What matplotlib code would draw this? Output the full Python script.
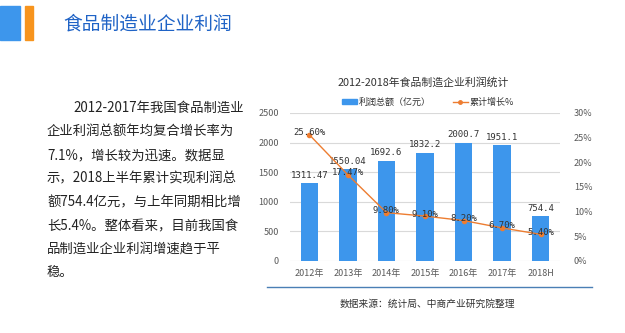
import matplotlib.pyplot as plt
from matplotlib.patches import Rectangle
from matplotlib.lines import Line2D

plt.rcParams['font.family'] = ['Noto Sans CJK SC', 'DejaVu Sans']

# data
years = ["2012年", "2013年", "2014年", "2015年", "2016年", "2017年", "2018H"]
profit = [1311.47, 1550.04, 1692.6, 1832.2, 2000.7, 1951.1, 754.4]
profit_labels = ["1311.47", "1550.04", "1692.6", "1832.2", "2000.7", "1951.1", "754.4"]
growth = [25.60, 17.47, 9.80, 9.10, 8.20, 6.70, 5.40]

text_lines = [
    "2012-2017年我国食品制造业",
    "企业利润总额年均复合增长率为",
    "7.1%，增长较为迅速。数据显",
    "示，2018上半年累计实现利润总",
    "额754.4亿元，与上年同期相比增",
    "长5.4%。整体看来，目前我国食",
    "品制造业企业利润增速趋于平",
    "稳。",
]

blue = "#3d96ec"
orange = "#ed7d31"
gray = "#595959"

fig = plt.figure(figsize=(6.25, 3.33), dpi=100)
W, H = 625, 333

# header decoration
fig.patches.append(Rectangle((0 / W, 1 - 40 / H), 20 / W, 34 / H,
                             transform=fig.transFigure, color="#3d96ec"))
fig.patches.append(Rectangle((25 / W, 1 - 40 / H), 8 / W, 34 / H,
                             transform=fig.transFigure, color="#f7941d"))
fig.text(63 / W, 1 - 24 / H, "食品制造业企业利润", fontsize=13.5,
         color="#1f63c6", va="center", ha="left", weight="medium")

# left paragraph
ys = [108, 131, 155, 178, 202, 226, 250, 272]
for i, (line, y) in enumerate(zip(text_lines, ys)):
    x = 73 if i == 0 else 47
    fig.text(x / W, 1 - y / H, line, fontsize=9.6, color="#222222",
             va="center", ha="left")

# chart
ax = fig.add_axes([290 / W, 72 / H, 270 / W, 148 / H])
ax2 = ax.twinx()
x = list(range(len(years)))
ax.bar(x, profit, width=0.45, color=blue, zorder=2)
ax.set_ylim(0, 2500)
ax.set_yticks([0, 500, 1000, 1500, 2000, 2500])
ax.set_xlim(-0.5, len(years) - 0.5)
ax.set_xticks(x)
ax.set_xticklabels(years)
ax.grid(axis="y", color="#d9d9d9", linewidth=0.8, zorder=0)
ax.set_axisbelow(True)
for a in (ax, ax2):
    for s in a.spines.values():
        s.set_visible(False)
    a.tick_params(length=0, labelsize=6.5, colors=gray)
ax.tick_params(axis="x", pad=6)
ax.tick_params(axis="y", pad=8)
ax2.tick_params(axis="y", pad=10)

for xi, v, lab in zip(x, profit, profit_labels):
    ax.text(xi, v + 60, lab, ha="center", va="bottom", fontsize=6.5,
            color="#333333", family="DejaVu Sans Mono")

ax2.plot(x, growth, color=orange, linewidth=1.0, marker="o", markersize=3,
         zorder=3)
ax2.set_ylim(0, 30)
ax2.set_yticks([0, 5, 10, 15, 20, 25, 30])
ax2.set_yticklabels([f"{t}%" for t in range(0, 31, 5)])
for xi, g in zip(x, growth):
    ax2.text(xi, g + 0.4, f"{g:.2f}%", ha="center", va="center",
             fontsize=6.5, color="#333333", family="DejaVu Sans Mono")

# chart title and legend
fig.text(423 / W, 1 - 82 / H, "2012-2018年食品制造企业利润统计", fontsize=7.8,
         color="#333333", ha="center", va="center")
handles = [Rectangle((0, 0), 1, 1, color=blue),
           Line2D([0], [0], color=orange, marker="o", markersize=2.5, linewidth=1)]
fig.legend(handles, ["利润总额（亿元）", "累计增长%"], loc="center",
           bbox_to_anchor=(428 / W, 1 - 102 / H), ncol=2, frameon=False,
           fontsize=6.5, handlelength=1.6, handleheight=0.6,
           columnspacing=2.5, handletextpad=0.2, labelcolor="#333333")

# bottom rule and source
fig.add_artist(Line2D([267 / W, 592 / W], [1 - 287 / H, 1 - 287 / H],
                      transform=fig.transFigure, color="#4a7fb5", linewidth=1))
fig.text(427 / W, 1 - 304 / H, "数据来源：统计局、中商产业研究院整理", fontsize=7,
         color="#333333", ha="center", va="center")

fig.savefig("out.png", dpi=100)
